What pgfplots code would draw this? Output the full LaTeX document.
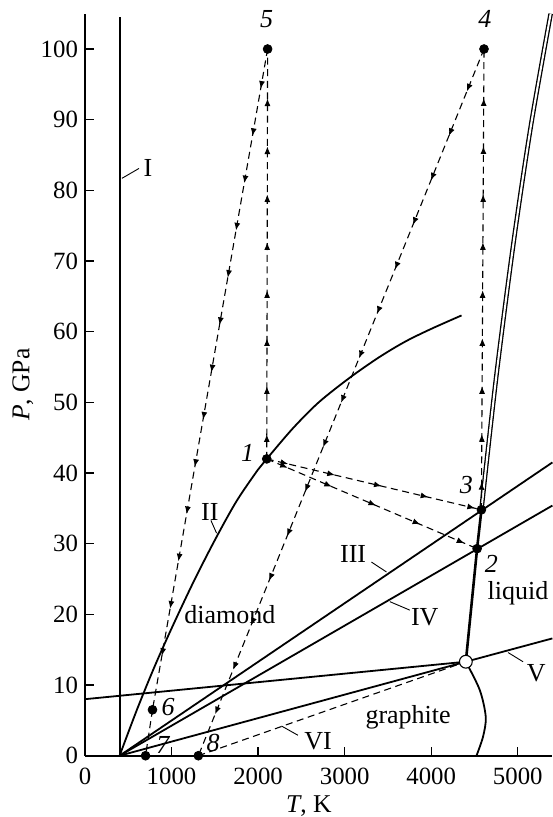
\documentclass[border=0pt]{standalone}
\usepackage{fontspec}
\setmainfont{Liberation Serif}
\usepackage{pgfplots}
\pgfplotsset{compat=1.18}
\usetikzlibrary{arrows.meta,decorations.markings}

\begin{document}
\begin{tikzpicture}[
 dsh/.style={black, dash pattern=on 3.5pt off 2.3pt, line width=0.55pt},
 arr/.style={postaction={decorate}, decoration={markings, mark=between positions #1 step 24pt with {\arrow{Latex[length=3.8pt,width=3pt]}}}},
 lab/.style={font=\fontsize{13}{15}\selectfont, inner sep=0pt},
 num/.style={font=\fontsize{13}{15}\selectfont\itshape, inner sep=0pt},
 sl/.style={black, line width=0.9pt},
]
\begin{axis}[
 width=233.8pt, height=371.15pt, scale only axis,
 xmin=0, xmax=5400, ymin=0, ymax=105,
 clip=false,
 axis x line=bottom, axis y line=left,
 axis line style={-, line width=1pt},
 tick align=inside, major tick length=4.5pt,
 tick style={line width=0.6pt, black},
 xtick={0,1000,...,5000}, ytick={0,10,...,100},
 scaled x ticks=false,
 xticklabel style={/pgf/number format/1000 sep={}, yshift=-2.5pt},
 /pgf/number format/assume math mode=true,
 tick label style={font=\fontsize{12.4}{14}\selectfont},
 label style={font=\fontsize{12.8}{14}\selectfont},
 xlabel={\textit{T}, K},
 ylabel={\textit{P}, GPa},
 xlabel style={at={(axis description cs:0.479,-0.0675)}, anchor=center},
 ylabel style={at={(axis description cs:-0.133,0.5)}, anchor=center},
]
% Line I
\addplot[black, line width=1pt] coordinates {(405,0) (405,104.5)};
% Line II (curve)
\addplot[sl, smooth] coordinates {(400,0) (600,6.5) (800,12.5) (1000,18.0) (1250,24.5) (1500,30.5) (1750,36.0) (2000,40.5) (2100,42) (2400,46.3) (2700,50.0) (3060,53.5) (3400,56.4) (3700,58.6) (4000,60.4) (4350,62.3)};
% Line III
\addplot[sl] coordinates {(400,0) (5400,41.5)};
% Line IV
\addplot[sl] coordinates {(400,0) (5400,35.4)};
% Line V
\addplot[sl] coordinates {(0,8) (4400,13.3) (5400,16.6)};
% Line VI
\addplot[sl] coordinates {(400,0) (4400,13.3)};
% graphite melting curve
\addplot[sl, smooth] coordinates {(4400,13.3) (4561,9.3) (4630,5.5) (4599,2.7) (4523,0)};
% melting line lower part
\addplot[black, line width=1.3pt] coordinates {(4400,13.3) (4530,29.3) (4580,34.8)};
% melting line upper part (double)
\addplot[black, double, double distance=1pt, line width=0.65pt, smooth] coordinates {(4580,34.8) (4750,53.5) (4950,72.5) (5150,89) (5380,105)};

% dashed paths
\addplot[dsh, arr={0.06 and 0.97}] coordinates {(2100,42) (2110,100)};
\addplot[dsh, arr={0.06 and 0.97}] coordinates {(2110,100) (780,6.5)};
\addplot[dsh] coordinates {(780,6.5) (700,0)};
\addplot[dsh, arr={0.06 and 0.97}] coordinates {(4580,34.8) (4610,100)};
\addplot[dsh, arr={0.06 and 0.97}] coordinates {(4610,100) (1310,0)};
\addplot[dsh, arr={0.1 and 0.97}] coordinates {(2100,42) (4580,34.8)};
\addplot[dsh, arr={0.1 and 0.97}] coordinates {(2100,42) (4530,29.3)};
\addplot[dsh] coordinates {(1310,0) (4400,13.3)};

% leader lines
\addplot[black, line width=0.45pt] coordinates {(427,81.7) (624,83.1)};
\addplot[black, line width=0.45pt] coordinates {(1455,33.3) (1520,31.5)};
\addplot[black, line width=0.45pt] coordinates {(3310,27.4) (3483,26.0)};
\addplot[black, line width=0.45pt] coordinates {(3522,21.8) (3753,20.6)};
\addplot[black, line width=0.45pt] coordinates {(4888,14.6) (5061,13.3)};
\addplot[black, line width=0.45pt] coordinates {(2271,4.2) (2460,2.9)};

% points
\addplot[only marks, mark=*, mark size=2.2pt, black] coordinates {(2100,42) (4530,29.3) (4580,34.8) (4610,100) (2110,100) (780,6.5) (700,0) (1310,0)};
\addplot[only marks, mark=*, mark size=3.2pt, mark options={fill=white, draw=black, line width=0.55pt}] coordinates {(4400,13.3)};

% labels
\node[num] at (axis cs:2100,104.3) {5};
\node[num] at (axis cs:4620,104.3) {4};
\node[num] at (axis cs:1880,42.8) {1};
\node[num] at (axis cs:4407,38.3) {3};
\node[num] at (axis cs:4695,27.2) {2};
\node[num] at (axis cs:960,6.9) {6};
\node[num] at (axis cs:900,1.5) {7};
\node[num] at (axis cs:1480,1.8) {8};
\node[lab] at (axis cs:728,83.1) {I};
\node[lab] at (axis cs:1443,34.5) {II};
\node[lab] at (axis cs:3098,28.6) {III};
\node[lab] at (axis cs:3926,19.6) {IV};
\node[lab] at (axis cs:5215,11.65) {V};
\node[lab] at (axis cs:2694,2.0) {VI};
\node[lab] at (axis cs:1675,19.9) {diamond};
\node[lab] at (axis cs:5003,23.0) {liquid};
\node[lab] at (axis cs:3733,5.5) {graphite};
\end{axis}
\pgfresetboundingbox
\path ([xshift=-42.5pt, yshift=-30.65pt]current axis.south west) rectangle ([yshift=6.85pt]current axis.north east);
\end{tikzpicture}
\end{document}
